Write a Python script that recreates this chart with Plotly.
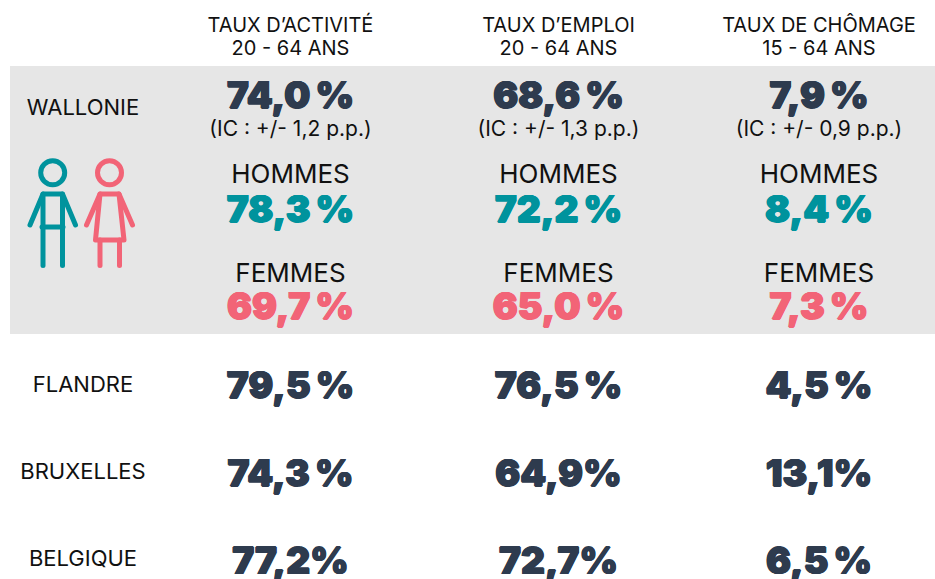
import plotly.graph_objects as go

# --- data -------------------------------------------------------------
header_top = ["TAUX D’ACTIVITÉ", "TAUX D’EMPLOI", "TAUX DE CHÔMAGE"]
header_sub = ["20 - 64 ANS", "20 - 64 ANS", "15 - 64 ANS"]
wallonie = ["74,0\u2009%", "68,6\u2009%", "7,9\u2009%"]
intervals = ["(IC : +/- 1,2 p.p.)", "(IC : +/- 1,3 p.p.)", "(IC : +/- 0,9 p.p.)"]
hommes = ["78,3\u2009%", "72,2\u2009%", "8,4\u2009%"]
femmes = ["69,7\u2009%", "65,0\u2009%", "7,3\u2009%"]
flandre = ["79,5\u2009%", "76,5\u2009%", "4,5\u2009%"]
bruxelles = ["74,3\u2009%", "64,9%", "13,1%"]
belgique = ["77,2%", "72,7%", "6,5\u2009%"]
region_labels = ["WALLONIE", "FLANDRE", "BRUXELLES", "BELGIQUE"]

# --- layout constants ---------------------------------------------------
W, H = 935, 579
COLS = [290.5, 558.5, 819]
REGION_X = [83, 83, 83, 83]
REGION_Y = [109.5, 386, 473, 560]
DARK, TEAL, PINK, BLACK = "#2e3b4e", "#00939d", "#f26477", "#111111"
SANS = "Inter"
NUM = 37

fig = go.Figure()

def row(texts, y, size, color, heavy=False, xs=COLS):
    ys = [y] * len(texts) if not isinstance(y, list) else y
    font = dict(family=SANS, size=size, color=color, weight=900 if heavy else 400)
    if heavy:
        font["shadow"] = (f"0.7px 0 0 {color}, -0.7px 0 0 {color}, "
                          f"0 0.7px 0 {color}, 0 -0.7px 0 {color}")
    fig.add_trace(go.Scatter(
        x=xs, y=ys, text=texts, mode="text", textposition="middle center",
        hoverinfo="skip", showlegend=False, cliponaxis=False, textfont=font))

row(header_top, 27, 20, BLACK)
row(header_sub, 50, 20, BLACK)
row(wallonie, 99, NUM, DARK, True)
row(intervals, 131, 21, BLACK)
row(["HOMMES"] * 3, 176, 26, BLACK)
row(hommes, 213, NUM, TEAL, True)
row(["FEMMES"] * 3, 275, 26, BLACK)
row(femmes, 310, NUM, PINK, True)
row(flandre, 389, NUM, DARK, True)
row(bruxelles, 477, NUM, DARK, True)
row(belgique, 564.5, NUM, DARK, True)
row(region_labels, REGION_Y, 22, BLACK, xs=REGION_X)

shapes = [dict(type="rect", xref="x", yref="y", x0=10, x1=935, y0=66, y1=334,
               fillcolor="#e6e6e6", line_width=0, layer="below")]

def stroke(path, color):
    shapes.append(dict(type="path", path=path, xref="x", yref="y", layer="above",
                       line=dict(color=color, width=5), fillcolor="rgba(0,0,0,0)"))

def circle(cx, cy, r, color):
    shapes.append(dict(type="circle", xref="x", yref="y", x0=cx - r, x1=cx + r,
                       y0=cy - r, y1=cy + r, line=dict(color=color, width=5),
                       layer="above"))

# man pictogram
circle(52.7, 172.7, 12, TEAL)
stroke("M30,225 L43,194 L62.5,194 L75.5,225", TEAL)
stroke("M43,194 L43,265.5", TEAL)
stroke("M62.5,194 L62.5,265.5", TEAL)
stroke("M42,227 L63,227", TEAL)
# woman pictogram
circle(109.5, 172.7, 12, PINK)
stroke("M86.5,225 L100,194 L119,194 L132.5,225", PINK)
stroke("M100,194 L95.5,240 L124,240 L119,194", PINK)
stroke("M100,240 L100,265.5", PINK)
stroke("M119.5,240 L119.5,265.5", PINK)

fig.update_layout(
    width=W, height=H, margin=dict(l=0, r=0, t=0, b=0, pad=0),
    paper_bgcolor="white", plot_bgcolor="white", shapes=shapes,
    xaxis=dict(range=[0, W], visible=False, fixedrange=True),
    yaxis=dict(range=[H, 0], visible=False, fixedrange=True),
)
fig.write_html("out.html", config={"displayModeBar": False},
               default_width=f"{W}px", default_height=f"{H}px",
               post_script=("document.body.style.margin='0';document.body.style.overflow='hidden';"
                            "document.querySelectorAll('.shapelayer path').forEach(function(p){"
                            "p.style.strokeLinecap='round';p.style.strokeLinejoin='round';});"))
